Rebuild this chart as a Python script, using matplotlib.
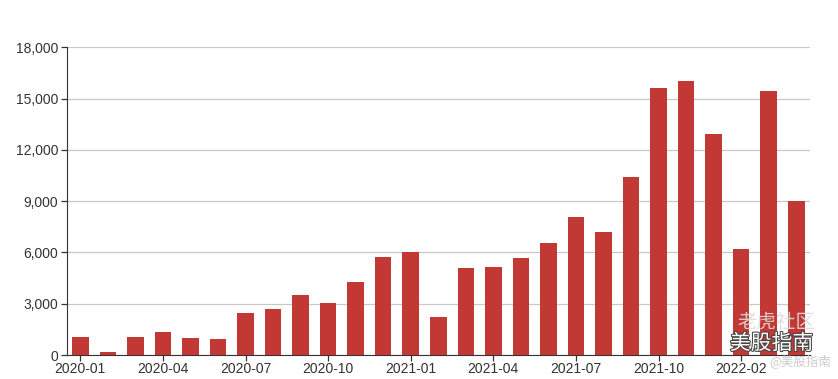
import matplotlib
matplotlib.use("Agg")
import matplotlib.pyplot as plt
import matplotlib.patheffects as pe
from matplotlib.ticker import FuncFormatter

# monthly values
months = ["2020-01", "2020-02", "2020-03", "2020-04", "2020-05", "2020-06",
          "2020-07", "2020-08", "2020-09", "2020-10", "2020-11", "2020-12",
          "2021-01", "2021-02", "2021-03", "2021-04", "2021-05", "2021-06",
          "2021-07", "2021-08", "2021-09", "2021-10", "2021-11", "2021-12",
          "2022-02", "2022-03", "2022-04"]
values = [1080, 160, 1080, 1350, 1000, 920,
          2470, 2690, 3500, 3030, 4250, 5720,
          6030, 2240, 5110, 5150, 5690, 6570,
          8050, 7220, 10410, 15620, 16010, 12930,
          6220, 15420, 9010]
shown_labels = ["2020-01", "2020-04", "2020-07", "2020-10", "2021-01",
                "2021-04", "2021-07", "2021-10", "2022-02"]
y_ticks = [0, 3000, 6000, 9000, 12000, 15000, 18000]

plt.rcParams["font.family"] = ["Liberation Sans", "DejaVu Sans"]

fig = plt.figure(figsize=(8.38, 3.79), dpi=100)
ax = fig.add_axes([0.0794, 0.0633, 0.8872, 0.8117])

x = list(range(len(months)))
ax.bar(x, values, width=0.6, color="#c23834", zorder=3)

ax.set_xlim(-0.5, len(months) - 0.5)
ax.set_ylim(0, 18000)
ax.set_yticks(y_ticks)
ax.yaxis.set_major_formatter(FuncFormatter(lambda v, p: f"{int(v):,}"))
ax.grid(axis="y", color="#c8c8c8", linewidth=0.9, zorder=0)

tick_pos = [months.index(m) for m in shown_labels]
ax.set_xticks(tick_pos)
ax.set_xticklabels(shown_labels)

for side in ["top", "right"]:
    ax.spines[side].set_visible(False)
ax.spines["left"].set_color("#333333")
ax.spines["bottom"].set_color("#333333")
ax.tick_params(axis="both", colors="#333333", labelsize=10, length=4, width=0.9)
ax.tick_params(axis="y", pad=2)
ax.tick_params(axis="x", pad=1)

# watermark
cjk = ["Noto Sans CJK SC", "DejaVu Sans"]
fig.text(0.88, 0.148, "老虎社区", family=cjk, fontsize=14, color="#dddddd",
         alpha=0.9, ha="left", va="center")
fig.text(0.871, 0.094, "美股指南", family=cjk, fontsize=15, color="white",
         va="center",
         path_effects=[pe.withStroke(linewidth=1.5, foreground="#444444")])
fig.text(0.918, 0.045, "@美股指南", family=cjk, fontsize=9, color="#cccccc",
         va="center")

fig.savefig("out.png", dpi=100)
